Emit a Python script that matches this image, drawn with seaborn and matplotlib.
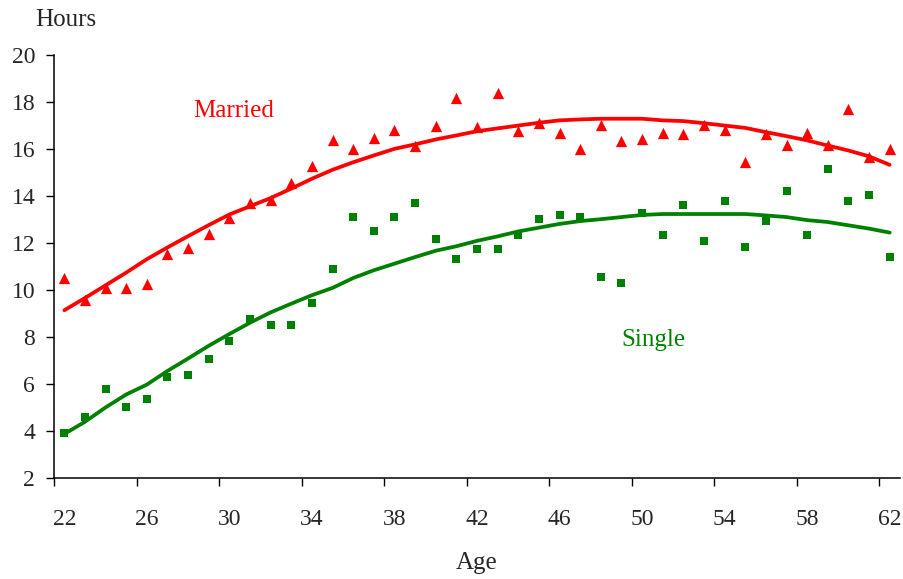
import numpy as np
import pandas as pd
import matplotlib
matplotlib.use("Agg")
import matplotlib.pyplot as plt
import seaborn as sns

ages = list(range(22, 63))

married_pts = [10.5, 9.56, 10.07, 10.07, 10.23, 11.5, 11.76, 12.36, 13.04, 13.67,
               13.8, 14.52, 15.24, 16.35, 16.0, 16.43, 16.77, 16.09, 16.94, 18.15,
               16.9, 18.37, 16.75, 17.08, 16.68, 15.98, 17.02, 16.34, 16.42, 16.68,
               16.6, 17.02, 16.77, 15.41, 16.62, 16.15, 16.68, 16.14, 17.69, 15.65,
               15.99]
single_pts = [3.9, 4.58, 5.78, 5.01, 5.35, 6.29, 6.37, 7.05, 7.81, 8.75,
              8.49, 8.49, 9.43, 10.87, 13.08, 12.48, 13.08, 13.67, 12.14, 11.3,
              11.72, 11.72, 12.31, 12.99, 13.16, 13.08, 10.53, 10.27, 13.25, 12.31,
              13.59, 12.06, 13.76, 11.8, 12.91, 14.18, 12.31, 15.12, 13.76, 14.01,
              11.38]
married_fit = [9.13, 9.65, 10.19, 10.73, 11.3, 11.8, 12.28, 12.75, 13.2, 13.55,
               13.9, 14.3, 14.72, 15.1, 15.42, 15.71, 15.99, 16.18, 16.39, 16.56,
               16.74, 16.86, 16.98, 17.1, 17.2, 17.24, 17.27, 17.27, 17.27, 17.2,
               17.17, 17.08, 16.98, 16.88, 16.7, 16.53, 16.35, 16.13, 15.92, 15.67,
               15.31]
single_fit = [3.87, 4.39, 5.0, 5.55, 5.97, 6.55, 7.08, 7.62, 8.12, 8.6,
              9.04, 9.41, 9.77, 10.08, 10.5, 10.83, 11.11, 11.39, 11.66, 11.85,
              12.08, 12.27, 12.48, 12.64, 12.8, 12.92, 13.0, 13.09, 13.18, 13.22,
              13.22, 13.22, 13.22, 13.22, 13.16, 13.09, 12.96, 12.88, 12.74, 12.6,
              12.43]

y_ticks = list(range(2, 21, 2))
x_label_ages = list(range(22, 63, 4))

sns.set_theme(style="white")
plt.rcParams['font.family'] = ['Liberation Serif', 'DejaVu Serif']

RED = "#ff0000"
GREEN = "#008000"

fig = plt.figure(figsize=(9.04, 5.79), dpi=100)
ax = fig.add_axes([54/904, 1-478/579, (900-54)/904, (478-54.5)/579])

df_pts = pd.DataFrame({"Age": ages, "Married": married_pts, "Single": single_pts})
df_fit = pd.DataFrame({"Age": ages, "Married": married_fit, "Single": single_fit})

sns.lineplot(data=df_fit, x="Age", y="Married", color=RED, linewidth=2.7, ax=ax)
sns.lineplot(data=df_fit, x="Age", y="Single", color=GREEN, linewidth=2.7, ax=ax)
sns.scatterplot(data=df_pts, x="Age", y="Married", marker="^", s=66, color=RED,
                linewidth=0, ax=ax, zorder=3)
sns.scatterplot(data=df_pts, x="Age", y="Single", marker="s", s=36, color=GREEN,
                linewidth=0, ax=ax, zorder=3)

ax.set_xlim(21.5, 62.5)
ax.set_ylim(2, 20)
ax.set_yticks(y_ticks)
ax.set_yticklabels([str(v) for v in y_ticks])
# tick marks at category boundaries, labels at category centres
ax.set_xticks([a - 0.5 for a in x_label_ages])
ax.set_xticklabels([])
ax.set_xticks(x_label_ages, minor=True)
ax.set_xticklabels([str(a) for a in x_label_ages], minor=True)
ax.tick_params(axis="x", which="major", direction="out", length=5.5, width=1.0,
               color="black", bottom=True)
ax.tick_params(axis="x", which="minor", length=0, pad=22, labelsize=17,
               bottom=True)
ax.tick_params(axis="y", direction="out", length=5.5, width=1.0, color="black",
               left=True, pad=8, labelsize=17)

for s in ["top", "right"]:
    ax.spines[s].set_visible(False)
for s in ["left", "bottom"]:
    ax.spines[s].set_color("black")
    ax.spines[s].set_linewidth(1.1)

ax.set_xlabel("")
ax.set_ylabel("")
fig.text(477/904, 1-563/579, "Age", ha="center", va="center", fontsize=18)
fig.text(66/904, 1-20/579, "Hours", ha="center", va="center", fontsize=18)
fig.text(234/904, 1-111/579, "Married", ha="center", va="center", fontsize=18,
         color=RED)
fig.text(653/904, 1-340/579, "Single", ha="center", va="center", fontsize=18,
         color=GREEN)

ax.grid(False)
fig.savefig("out.png", dpi=100, facecolor="white")
